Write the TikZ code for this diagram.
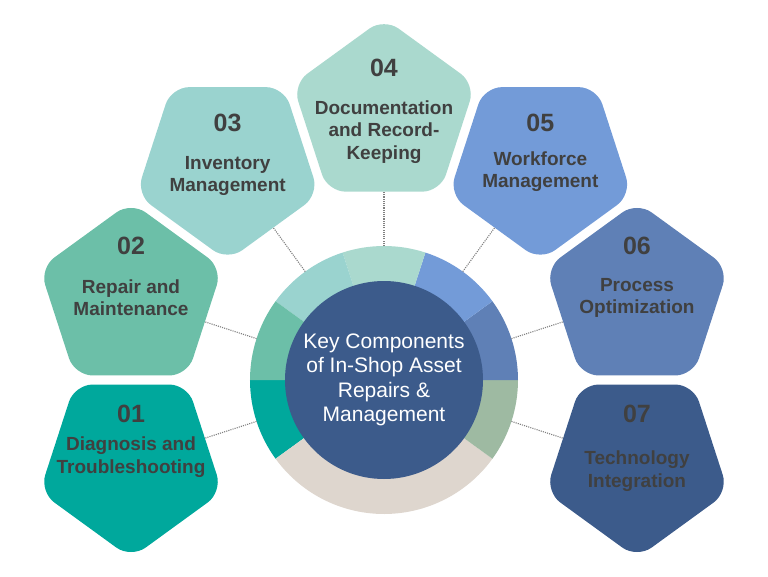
\documentclass[tikz,border=0pt]{standalone}
\usepackage{fontspec}
\setmainfont{Liberation Sans}
\usetikzlibrary{shapes.geometric}

\definecolor{petalA}{HTML}{00A89C}
\definecolor{petalB}{HTML}{6CBFA8}
\definecolor{petalC}{HTML}{9AD3CF}
\definecolor{petalD}{HTML}{AAD9CE}
\definecolor{petalE}{HTML}{739BD8}
\definecolor{petalF}{HTML}{5F80B6}
\definecolor{petalG}{HTML}{3C5B8B}
\definecolor{sand}{HTML}{DED6CE}
\definecolor{sage}{HTML}{9EBAA2}
\definecolor{ink}{HTML}{404040}

\tikzset{
  petal/.style={regular polygon, regular polygon sides=5, minimum size=192pt,
    inner sep=0pt, outer sep=0pt, rounded corners=18pt},
  petaldown/.style={petal, shape border rotate=180},
  num/.style={font=\bfseries\fontsize{25}{28}\selectfont, text=ink},
  lbl/.style={font=\bfseries\fontsize{19}{22.5}\selectfont, text=ink, align=center},
  link/.style={line width=1.1pt, dash pattern=on 1.1pt off 1.1pt, gray},
}

\begin{document}
\begin{tikzpicture}[x=1pt,y=1pt]
  \useasboundingbox (-384,-196) rectangle (384,380);

  % pentagons around the hub
  \node[petaldown, fill=petalA] (p1) at (198:266) {};
  \node[petal,     fill=petalB] (p2) at (162:266) {};
  \node[petaldown, fill=petalC] (p3) at (126:266) {};
  \node[petal,     fill=petalD] (p4) at (90:266)  {};
  \node[petaldown, fill=petalE] (p5) at (54:266)  {};
  \node[petal,     fill=petalF] (p6) at (18:266)  {};
  \node[petaldown, fill=petalG] (p7) at (-18:266) {};

  \node[num, yshift=48] (n1) at (p1) {01};
  \node[lbl, yshift=5]  (t1) at (p1) {Diagnosis and\\Troubleshooting};
  \node[num, yshift=52] (n2) at (p2) {02};
  \node[lbl]            (t2) at (p2) {Repair and\\Maintenance};
  \node[num, yshift=42] (n3) at (p3) {03};
  \node[lbl, yshift=-11] (t3) at (p3) {Inventory\\Management};
  \node[num, yshift=46] (n4) at (p4) {04};
  \node[lbl, yshift=-18] (t4) at (p4) {Documentation\\and Record-\\Keeping};
  \node[num, yshift=42] (n5) at (p5) {05};
  \node[lbl, yshift=-7] (t5) at (p5) {Workforce\\Management};
  \node[num, yshift=52] (n6) at (p6) {06};
  \node[lbl]            (t6) at (p6) {Process\\Optimization};
  \node[num, yshift=48] (n7) at (p7) {07};
  \node[lbl, yshift=-9] (t7) at (p7) {Technology\\Integration};

  % coloured ring
  \foreach \a/\b/\c in {180/216/petalA, 216/324/sand, 324/360/sage, 0/36/petalF,
                        36/72/petalE, 72/108/petalD, 108/144/petalC, 144/180/petalB}
    \fill[\c] (0,0) -- (\a:134) arc (\a:\b:134) -- cycle;
  \node[circle, minimum size=268pt, inner sep=0pt, outer sep=0pt] (ring) at (0,0) {};

  % hub
  \fill[petalG] (0,0) circle (99);
  \node[text=white, align=center, font=\fontsize{21}{24.5}\selectfont] (hub) at (0,0)
    {Key Components\\of In-Shop Asset\\Repairs \&\\Management};

  % dotted links
  \draw[link] (ring.198) -- (p1);
  \draw[link] (ring.162) -- (p2);
  \draw[link] (ring.126) -- (p3);
  \draw[link] (ring.90)  -- (p4);
  \draw[link] (ring.54)  -- (p5);
  \draw[link] (ring.18)  -- (p6);
  \draw[link] (ring.-18) -- (p7);
\end{tikzpicture}
\end{document}
